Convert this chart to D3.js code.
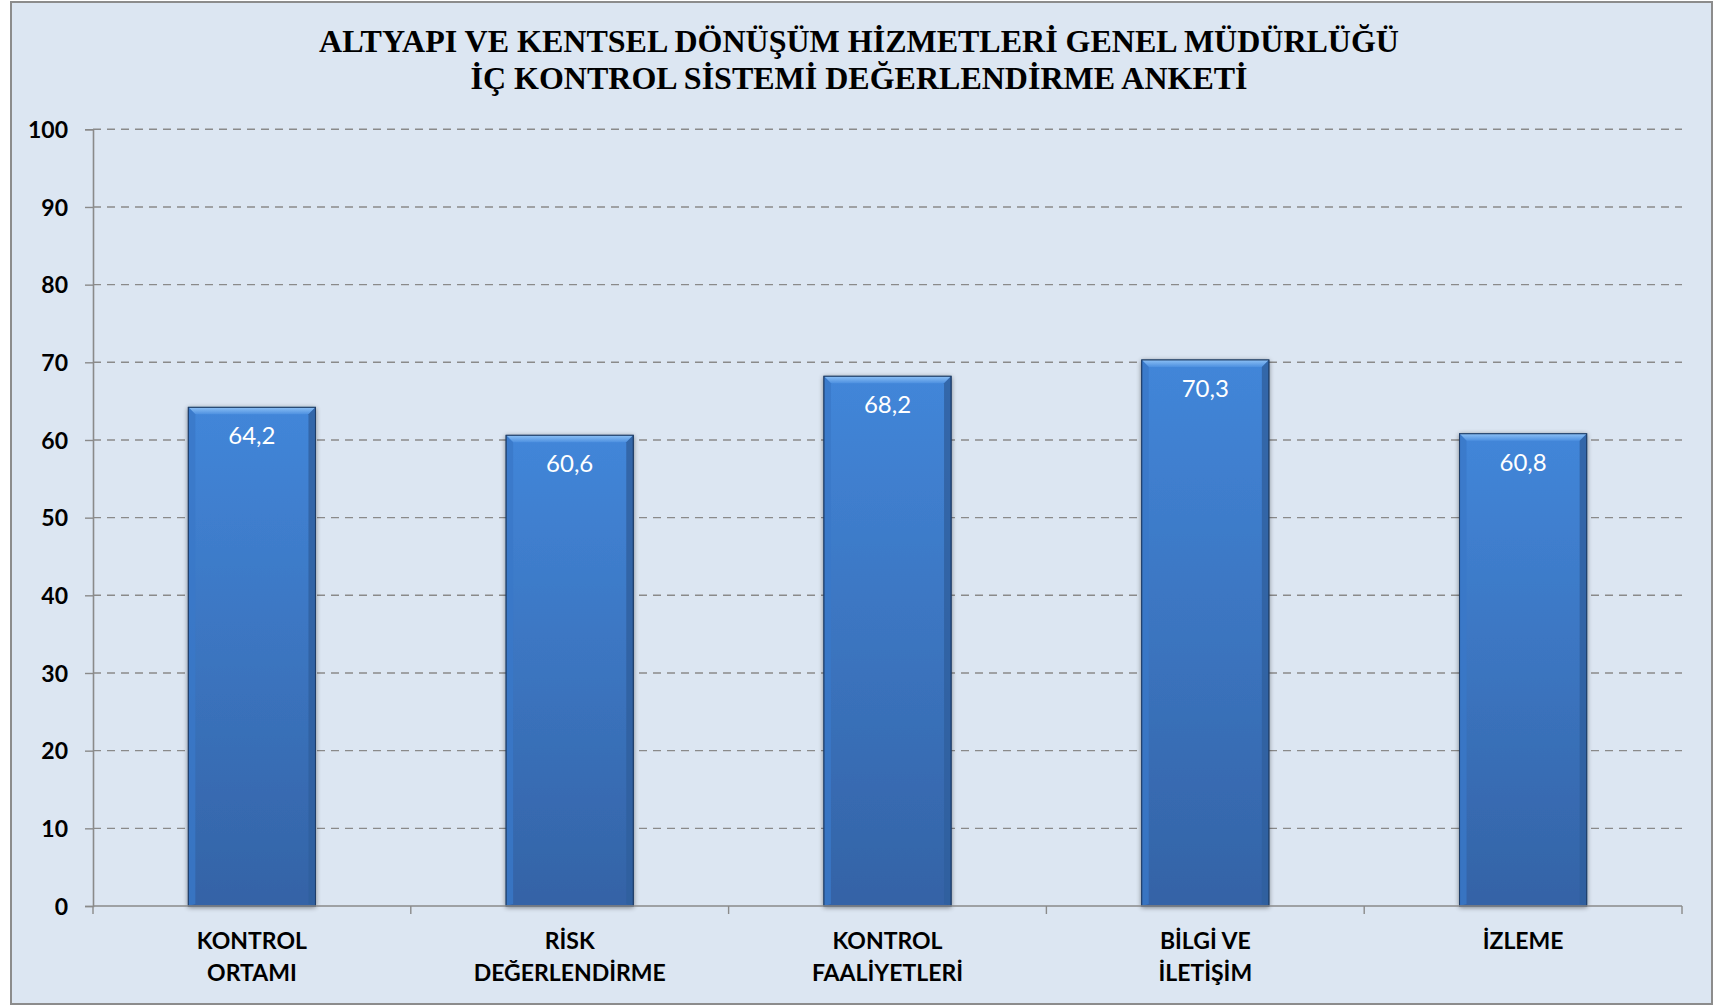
<!DOCTYPE html>
<meta charset="utf-8">
<head>
<script src="https://d3js.org/d3.v7.min.js"></script>
<style>
  body { margin: 0; background: #fff; }
  svg { display: block; }
</style>
</head>
<body>
<script>
"use strict";
// chart data
var categories = [["KONTROL", "ORTAMI"], ["RİSK", "DEĞERLENDİRME"], ["KONTROL", "FAALİYETLERİ"], ["BİLGİ VE", "İLETİŞİM"], ["İZLEME"]];
var values = [64.2, 60.6, 68.2, 70.3, 60.8];
var valueLabels = ["64,2", "60,6", "68,2", "70,3", "60,8"];
var yTicks = [0, 10, 20, 30, 40, 50, 60, 70, 80, 90, 100];
var titleLines = ["ALTYAPI VE KENTSEL DÖNÜŞÜM HİZMETLERİ GENEL MÜDÜRLÜĞÜ", "İÇ KONTROL SİSTEMİ DEĞERLENDİRME ANKETİ"];

var width = 1715, height = 1005;
var plotLeft = 93, plotRight = 1682, plotTop = 129.3, plotBottom = 906;

var svg = d3.select("body").append("svg")
    .attr("width", width)
    .attr("height", height);

var defs = svg.append("defs");
var g1 = defs.append("linearGradient").attr("id", "barGrad")
    .attr("x1", 0).attr("y1", 0).attr("x2", 0).attr("y2", 1);
g1.append("stop").attr("offset", "0%").attr("stop-color", "#4286d9");
g1.append("stop").attr("offset", "100%").attr("stop-color", "#3463a6");

var g2 = defs.append("linearGradient").attr("id", "bevelTop")
    .attr("x1", 0).attr("y1", 0).attr("x2", 0).attr("y2", 1);
g2.append("stop").attr("offset", "0%").attr("stop-color", "#8cc0f5");
g2.append("stop").attr("offset", "100%").attr("stop-color", "#4d90e0");

var f = defs.append("filter").attr("id", "shadow")
    .attr("x", "-10%").attr("y", "-10%").attr("width", "120%").attr("height", "120%");
f.append("feGaussianBlur").attr("in", "SourceAlpha").attr("stdDeviation", 2.5).attr("result", "b");
f.append("feOffset").attr("in", "b").attr("dx", 0).attr("dy", 1).attr("result", "o");
f.append("feComponentTransfer").attr("in", "o").attr("result", "s")
  .append("feFuncA").attr("type", "linear").attr("slope", 0.45);
var fm = f.append("feMerge");
fm.append("feMergeNode").attr("in", "s");
fm.append("feMergeNode").attr("in", "SourceGraphic");

// background + frame
svg.append("rect")
    .attr("x", 11).attr("y", 2)
    .attr("width", 1701).attr("height", 1002)
    .attr("fill", "#dce6f2")
    .attr("stroke", "#8c8c8c")
    .attr("stroke-width", 2);

// title
svg.append("text")
    .attr("x", 859)
    .attr("text-anchor", "middle")
    .style("font-family", "'Liberation Serif', 'Times New Roman', serif")
    .style("font-weight", "bold")
    .style("font-size", "32px")
    .attr("fill", "#000")
    .selectAll("tspan")
    .data(titleLines)
    .enter().append("tspan")
      .attr("x", 859)
      .attr("y", (d, i) => 52 + i * 36.5)
      .text(d => d);

var x = d3.scaleBand()
    .domain(d3.range(values.length))
    .range([plotLeft, plotRight])
    .paddingInner(0.6)
    .paddingOuter(0.3);

var y = d3.scaleLinear()
    .domain([0, 100])
    .range([plotBottom, plotTop]);

// gridlines
svg.append("g").selectAll("line")
    .data(yTicks.filter(d => d > 0))
    .enter().append("line")
      .attr("x1", plotLeft).attr("x2", plotRight)
      .attr("y1", d => y(d)).attr("y2", d => y(d))
      .attr("stroke", "#8a8a8a")
      .attr("stroke-width", 1.4)
      .attr("stroke-dasharray", "8,6");

// y axis
var yAxis = svg.append("g")
    .attr("transform", "translate(" + plotLeft + ",0)")
    .call(d3.axisLeft(y).tickValues(yTicks).tickSize(8).tickPadding(17));
yAxis.select(".domain").attr("stroke", "#8a8a8a").attr("stroke-width", 1.6);
yAxis.selectAll(".tick line").attr("stroke", "#8a8a8a").attr("stroke-width", 1.4);
yAxis.selectAll(".tick text")
    .attr("fill", "#000")
    .attr("dy", "0.36em")
    .style("font-family", "Lato, 'Open Sans', sans-serif")
    .style("font-weight", "bold")
    .style("font-size", "23px");

// bars
var bars = svg.append("g").selectAll("g")
    .data(values)
    .enter().append("g")
      .attr("transform", (d, i) => "translate(" + x(i) + "," + y(d) + ")");

var bw = x.bandwidth();
var bev = 7;
bars.append("rect")
    .attr("width", bw)
    .attr("height", d => y(0) - y(d))
    .attr("fill", "url(#barGrad)")
    .attr("stroke", "#1f3d66")
    .attr("stroke-width", 1)
    .attr("filter", "url(#shadow)");
// top bevel
bars.append("path")
    .attr("d", "M0,0 L" + bw + ",0 L" + (bw - bev) + "," + bev + " L" + bev + "," + bev + " Z")
    .attr("fill", "url(#bevelTop)");
// side bevels
bars.append("path")
    .attr("d", d => "M0,0 L" + bev + "," + bev + " L" + bev + "," + (y(0) - y(d) - 2) + " L0," + (y(0) - y(d)) + " Z")
    .attr("fill", "#3a78c8").attr("opacity", 0.8);
bars.append("path")
    .attr("d", d => "M" + bw + ",0 L" + (bw - bev) + "," + bev + " L" + (bw - bev) + "," + (y(0) - y(d) - 2) + " L" + bw + "," + (y(0) - y(d)) + " Z")
    .attr("fill", "#2f5f9e").attr("opacity", 0.8);
bars.append("rect")
    .attr("width", bw)
    .attr("height", d => y(0) - y(d))
    .attr("fill", "none")
    .attr("stroke", "#1f3d66")
    .attr("stroke-width", 1);

// value labels
bars.append("text")
    .attr("x", bw / 2)
    .attr("y", 37)
    .attr("text-anchor", "middle")
    .attr("fill", "#fff")
    .style("font-family", "Lato, 'Open Sans', sans-serif")
    .style("font-size", "24px")
    .text((d, i) => valueLabels[i]);

// x axis line and category ticks
svg.append("line")
    .attr("x1", plotLeft).attr("x2", plotRight)
    .attr("y1", plotBottom).attr("y2", plotBottom)
    .attr("stroke", "#8a8a8a").attr("stroke-width", 1.6);
svg.append("g").selectAll("line")
    .data(d3.range(values.length + 1))
    .enter().append("line")
      .attr("x1", i => plotLeft + i * x.step()).attr("x2", i => plotLeft + i * x.step())
      .attr("y1", plotBottom).attr("y2", plotBottom + 8)
      .attr("stroke", "#8a8a8a").attr("stroke-width", 1.4);

// category labels
svg.append("g").selectAll("text")
    .data(categories)
    .enter().append("text")
      .attr("text-anchor", "middle")
      .attr("fill", "#000")
      .style("font-family", "Lato, 'Open Sans', sans-serif")
      .style("font-weight", "bold")
      .style("font-size", "23px")
      .each(function(d, i) {
        d3.select(this).selectAll("tspan")
          .data(d)
          .enter().append("tspan")
            .attr("x", x(i) + bw / 2)
            .attr("y", (t, j) => 949 + j * 32)
            .text(t => t);
      });
</script>
</body>
